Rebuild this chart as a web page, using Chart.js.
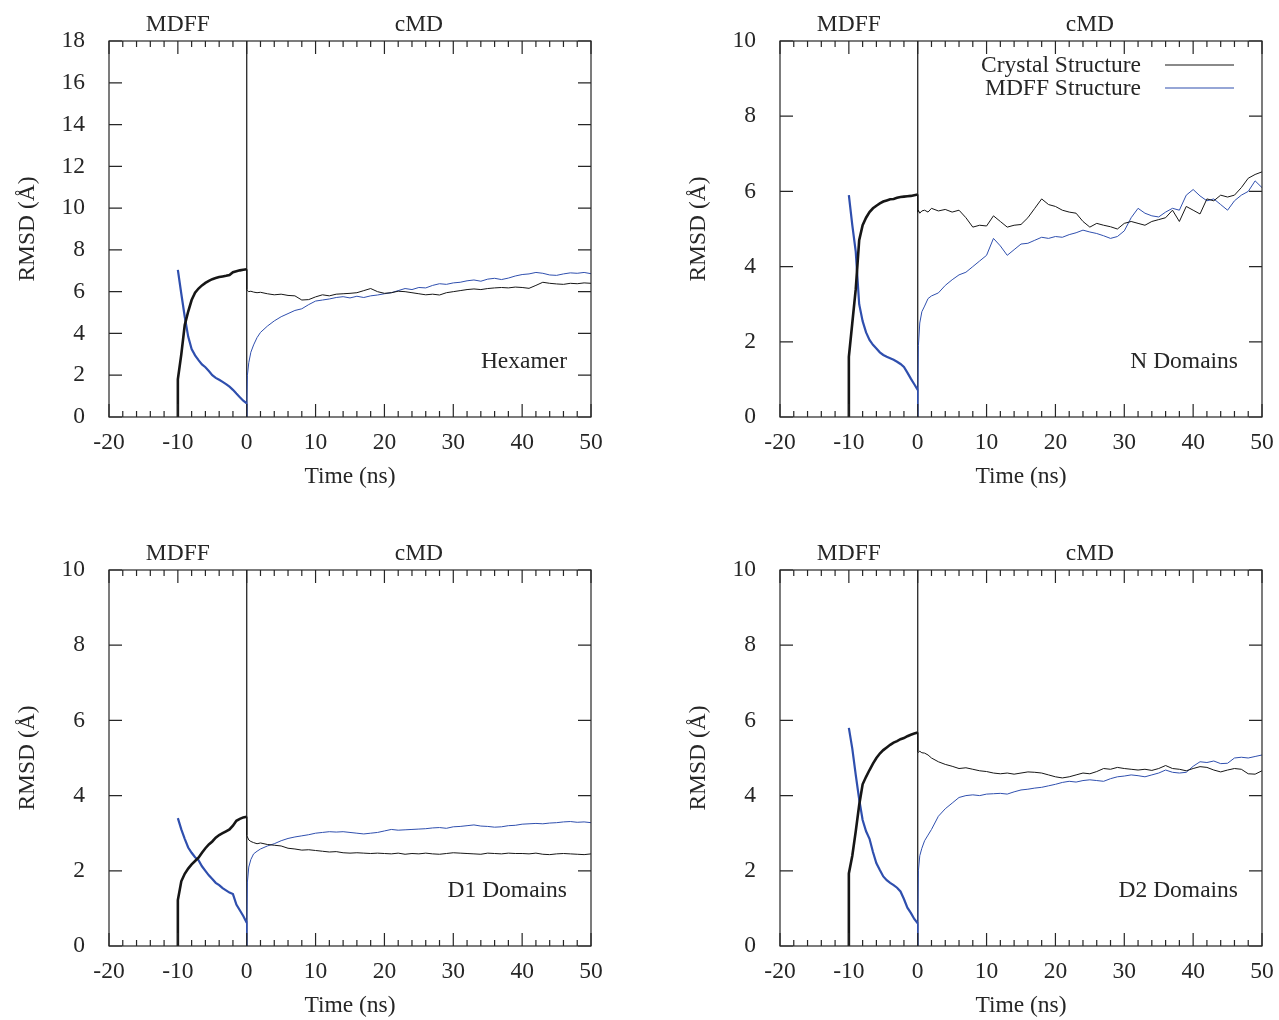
<!DOCTYPE html>
<html lang="en">
<head>
<meta charset="UTF-8">
<title>RMSD MDFF / cMD</title>
<script src="https://cdn.jsdelivr.net/npm/chart.js"></script>
<style>
  body { margin: 0; background: #fff; overflow: hidden; }
  .panel { position: absolute; }
</style>
</head>
<body>
<div class="panel" style="left:0;top:0"><canvas id="c1" width="608" height="491"></canvas></div>
<div class="panel" style="left:671px;top:0"><canvas id="c2" width="608" height="491"></canvas></div>
<div class="panel" style="left:0;top:529px"><canvas id="c3" width="608" height="491"></canvas></div>
<div class="panel" style="left:671px;top:529px"><canvas id="c4" width="608" height="491"></canvas></div>

<script>
// time axes (ns): MDFF run from -10 to 0, then conventional MD from 0 to 50
const mdffTime = [-10, -10, -9.5, -9, -8.5, -8, -7.5, -7, -6.5, -6, -5.5, -5, -4.5, -4, -3.5, -3, -2.5, -2, -1.5, -1, -0.5, 0];
const cmdTime = [0, 0, 0.1, 0.3, 0.6, 1, 1.5, 2,
  3, 4, 5, 6, 7, 8, 9, 10,
  11, 12, 13, 14, 15, 16, 17, 18, 19, 20,
  21, 22, 23, 24, 25, 26, 27, 28, 29, 30,
  31, 32, 33, 34, 35, 36, 37, 38, 39, 40,
  41, 42, 43, 44, 45, 46, 47, 48, 49, 50];

// Hexamer
const hexCrystalMdff = [0, 1.8, 3.0, 4.4, 5.05, 5.6, 5.95, 6.15, 6.3, 6.42, 6.52, 6.6, 6.65, 6.7, 6.73, 6.76, 6.8, 6.93, 6.98, 7.02, 7.05, 7.07];
const hexModelMdff = [7.04, 7.04, 5.9, 4.8, 3.85, 3.25, 2.95, 2.72, 2.52, 2.38, 2.2, 2.0, 1.87, 1.78, 1.68, 1.57, 1.45, 1.3, 1.12, 0.95, 0.78, 0.65];
const hexCrystalCmd = [7.07, 6.1, 6.05, 6.0, 6.02, 5.98, 5.95, 5.97,
  5.9, 5.85, 5.88, 5.82, 5.8, 5.6, 5.62, 5.75,
  5.85, 5.8, 5.88, 5.9, 5.92, 5.95, 6.05, 6.15, 6.0, 5.92,
  5.95, 6.02, 6.0, 5.95, 5.9, 5.85, 5.88, 5.84, 5.95, 6.0,
  6.05, 6.1, 6.13, 6.1, 6.15, 6.18, 6.2, 6.18, 6.22, 6.2,
  6.16, 6.3, 6.45, 6.4, 6.37, 6.35, 6.4, 6.38, 6.42, 6.4];
const hexModelCmd = [0.65, 0, 2.0, 2.6, 3.1, 3.45, 3.8, 4.05,
  4.35, 4.6, 4.8, 4.95, 5.1, 5.18, 5.38, 5.55,
  5.6, 5.65, 5.72, 5.76, 5.7, 5.78, 5.72, 5.8, 5.84, 5.9,
  5.95, 6.05, 6.15, 6.1, 6.2, 6.18, 6.3, 6.38, 6.35, 6.42,
  6.45, 6.52, 6.56, 6.5, 6.6, 6.64, 6.58, 6.65, 6.75, 6.82,
  6.85, 6.92, 6.88, 6.8, 6.78, 6.85, 6.9, 6.88, 6.92, 6.86];

// N domains
const nCrystalMdff = [0, 1.6, 2.5, 3.4, 4.7, 5.1, 5.3, 5.45, 5.55, 5.62, 5.68, 5.73, 5.76, 5.79, 5.8, 5.83, 5.85, 5.86, 5.87, 5.88, 5.9, 5.92];
const nModelMdff = [5.9, 5.9, 5.1, 4.4, 3.0, 2.55, 2.25, 2.05, 1.92, 1.82, 1.72, 1.65, 1.6, 1.56, 1.52, 1.47, 1.41, 1.33, 1.18, 1.02, 0.87, 0.72];
const nCrystalCmd = [5.92, 5.45, 5.5, 5.42, 5.48, 5.5, 5.45, 5.55,
  5.48, 5.52, 5.45, 5.5, 5.3, 5.05, 5.1, 5.08,
  5.35, 5.2, 5.05, 5.1, 5.12, 5.3, 5.55, 5.8, 5.65, 5.6,
  5.5, 5.45, 5.42, 5.2, 5.05, 5.15, 5.1, 5.06, 5.0, 5.15,
  5.2, 5.15, 5.1, 5.2, 5.25, 5.3, 5.5, 5.2, 5.6, 5.5,
  5.4, 5.8, 5.75, 5.9, 5.85, 5.9, 6.1, 6.35, 6.45, 6.52];
const nModelCmd = [0.72, 0, 1.9, 2.5, 2.8, 2.95, 3.15, 3.22,
  3.3, 3.5, 3.65, 3.78, 3.85, 4.0, 4.15, 4.3,
  4.75, 4.55, 4.3, 4.45, 4.6, 4.62, 4.7, 4.78, 4.75, 4.8,
  4.78, 4.85, 4.9, 4.97, 4.92, 4.88, 4.82, 4.75, 4.8, 4.95,
  5.3, 5.55, 5.42, 5.35, 5.32, 5.45, 5.55, 5.5, 5.9, 6.05,
  5.88, 5.75, 5.8, 5.65, 5.5, 5.75, 5.9, 6.0, 6.28, 6.1];

// D1 domains
const d1CrystalMdff = [0, 1.22, 1.72, 1.92, 2.06, 2.17, 2.26, 2.35, 2.48, 2.6, 2.7, 2.78, 2.88, 2.95, 3.0, 3.05, 3.1, 3.2, 3.33, 3.38, 3.42, 3.44];
const d1ModelMdff = [3.4, 3.4, 3.1, 2.85, 2.62, 2.48, 2.36, 2.28, 2.12, 2.0, 1.88, 1.78, 1.68, 1.62, 1.54, 1.48, 1.42, 1.38, 1.1, 0.95, 0.8, 0.62];
const d1CrystalCmd = [3.44, 2.95, 2.9, 2.82, 2.78, 2.75, 2.72, 2.74,
  2.7, 2.68, 2.66, 2.6, 2.58, 2.55, 2.56, 2.54,
  2.52, 2.5, 2.51, 2.48, 2.47, 2.48, 2.47, 2.46, 2.47, 2.46,
  2.45, 2.47, 2.44, 2.46, 2.45, 2.47, 2.45, 2.44, 2.46, 2.48,
  2.47, 2.46, 2.45, 2.44, 2.47, 2.46, 2.45, 2.47, 2.46, 2.46,
  2.45, 2.47, 2.44, 2.43, 2.45, 2.46, 2.45, 2.44, 2.43, 2.45];
const d1ModelCmd = [0.62, 0, 1.7, 2.1, 2.3, 2.45, 2.52, 2.58,
  2.66, 2.72, 2.8, 2.86, 2.9, 2.93, 2.96, 3.0,
  3.02, 3.04, 3.03, 3.04, 3.02, 3.0, 2.98, 3.0, 3.02, 3.06,
  3.1, 3.08, 3.09, 3.1, 3.11, 3.12, 3.14, 3.15, 3.13, 3.17,
  3.18, 3.2, 3.22, 3.19, 3.18, 3.16, 3.17, 3.2, 3.21, 3.24,
  3.25, 3.26, 3.25, 3.27, 3.28, 3.3, 3.31, 3.29, 3.3, 3.28];

// D2 domains
const d2CrystalMdff = [0, 1.93, 2.4, 3.05, 3.75, 4.3, 4.5, 4.68, 4.85, 5.0, 5.12, 5.21, 5.28, 5.35, 5.41, 5.45, 5.5, 5.53, 5.58, 5.62, 5.65, 5.68];
const d2ModelMdff = [5.8, 5.8, 5.25, 4.55, 3.9, 3.35, 3.05, 2.85, 2.5, 2.2, 2.02, 1.85, 1.75, 1.68, 1.62, 1.55, 1.45, 1.25, 1.02, 0.88, 0.72, 0.6];
const d2CrystalCmd = [5.68, 5.17, 5.15, 5.18, 5.14, 5.13, 5.08, 5.0,
  4.9, 4.83, 4.78, 4.72, 4.74, 4.7, 4.66, 4.64,
  4.6, 4.58, 4.6, 4.57, 4.6, 4.63, 4.62, 4.6, 4.55, 4.5,
  4.47, 4.5, 4.55, 4.6, 4.58, 4.64, 4.72, 4.7, 4.75, 4.72,
  4.7, 4.68, 4.7, 4.67, 4.72, 4.8, 4.72, 4.7, 4.66, 4.72,
  4.77, 4.75, 4.68, 4.63, 4.68, 4.72, 4.7, 4.58, 4.57, 4.66];
const d2ModelCmd = [0.6, 0, 2.0, 2.4, 2.6, 2.8, 2.95, 3.1,
  3.45, 3.65, 3.8, 3.95, 4.0, 4.02, 4.0, 4.04,
  4.05, 4.06, 4.04, 4.1, 4.15, 4.17, 4.2, 4.22, 4.26, 4.3,
  4.35, 4.38, 4.36, 4.4, 4.42, 4.4, 4.38, 4.45, 4.5, 4.52,
  4.55, 4.53, 4.5, 4.55, 4.6, 4.68, 4.62, 4.6, 4.62, 4.78,
  4.9, 4.88, 4.92, 4.85, 4.86, 5.0, 5.02, 5.0, 5.04, 5.08];

const phaseLabels = [['MDFF', -10], ['cMD', 25]];
const seriesNames = ['Crystal Structure', 'MDFF Structure'];

const BLACK = '#161616';
const BLUE = '#2f4fae';
const INK = '#262626';
const FONT = "'Liberation Serif', 'Times New Roman', serif";

Chart.defaults.font.family = FONT;
Chart.defaults.font.size = 23.5;
Chart.defaults.color = INK;

function pts(xs, ys) {
  return xs.map((t, i) => ({ x: t, y: ys[i] }));
}

// frame, inward ticks (gnuplot style), t=0 divider and text annotations
const decorations = {
  id: 'decorations',
  beforeDatasetsDraw(chart) {
    const { ctx, chartArea: a, scales: { x } } = chart;
    const x0 = x.getPixelForValue(0);
    ctx.save();
    ctx.strokeStyle = INK;
    ctx.lineWidth = 1.3;
    ctx.beginPath();
    ctx.moveTo(x0, a.top);
    ctx.lineTo(x0, a.bottom);
    ctx.stroke();
    ctx.restore();
  },
  afterDatasetsDraw(chart, args, opts) {
    const { ctx, chartArea: a, scales: { x, y } } = chart;
    ctx.save();
    ctx.strokeStyle = INK;
    ctx.lineWidth = 1.2;
    ctx.strokeRect(a.left, a.top, a.right - a.left, a.bottom - a.top);

    ctx.beginPath();
    for (let v = x.min; v <= x.max; v += 2) {
      const px = x.getPixelForValue(v);
      const len = v % 10 === 0 ? 13 : 6;
      ctx.moveTo(px, a.bottom); ctx.lineTo(px, a.bottom - len);
      ctx.moveTo(px, a.top); ctx.lineTo(px, a.top + len);
    }
    y.ticks.forEach(t => {
      const py = y.getPixelForValue(t.value);
      ctx.moveTo(a.left, py); ctx.lineTo(a.left + 13, py);
      ctx.moveTo(a.right, py); ctx.lineTo(a.right - 13, py);
    });
    ctx.stroke();

    ctx.fillStyle = INK;
    ctx.font = '23.5px ' + FONT;
    ctx.textBaseline = 'middle';
    ctx.textAlign = 'center';
    phaseLabels.forEach(([txt, t]) => ctx.fillText(txt, x.getPixelForValue(t), a.top - 16));

    ctx.textAlign = 'right';
    ctx.fillText(opts.panel, a.right - 24, a.bottom - 55);

    if (opts.legend) {
      [BLACK, BLUE].forEach((c, i) => {
        const ly = a.top + 25 + i * 23;
        ctx.fillStyle = INK;
        ctx.fillText(seriesNames[i], a.right - 121, ly);
        ctx.strokeStyle = c;
        ctx.lineWidth = 1.2;
        ctx.beginPath();
        ctx.moveTo(a.right - 97, ly - 1);
        ctx.lineTo(a.right - 28, ly - 1);
        ctx.stroke();
      });
    }
    ctx.restore();
  }
};

function makePanel(id, yMax, panel, legend, crystalMdff, modelMdff, crystalCmd, modelCmd) {
  new Chart(document.getElementById(id), {
    type: 'line',
    data: {
      datasets: [
        { label: 'crystal MDFF', data: pts(mdffTime, crystalMdff), borderColor: BLACK, borderWidth: 2.6 },
        { label: 'model MDFF', data: pts(mdffTime, modelMdff), borderColor: BLUE, borderWidth: 2.2 },
        { label: 'crystal cMD', data: pts(cmdTime, crystalCmd), borderColor: BLACK, borderWidth: 1 },
        { label: 'model cMD', data: pts(cmdTime, modelCmd), borderColor: BLUE, borderWidth: 1 }
      ]
    },
    options: {
      responsive: false,
      animation: false,
      events: [],
      elements: { point: { radius: 0 }, line: { tension: 0 } },
      layout: { padding: { top: 41, right: 17, left: 0, bottom: 0 } },
      plugins: {
        legend: { display: false },
        tooltip: { enabled: false },
        decorations: { panel: panel, legend: legend }
      },
      scales: {
        x: {
          type: 'linear',
          min: -20, max: 50,
          grid: { display: false, drawTicks: false },
          border: { display: false },
          ticks: { stepSize: 10, padding: 12, maxRotation: 0 },
          title: { display: true, text: 'Time (ns)', padding: { top: 0, bottom: 0 } },
          afterFit: s => { s.height = 74; s.paddingLeft = 0; s.paddingRight = 0; }
        },
        y: {
          min: 0, max: yMax,
          grid: { display: false, drawTicks: false },
          border: { display: false },
          ticks: { stepSize: 2, padding: 24 },
          title: { display: true, text: 'RMSD (Å)', padding: { top: 14, bottom: 0 } },
          afterFit: s => { s.width = 109; s.paddingTop = 0; s.paddingBottom = 0; }
        }
      }
    },
    plugins: [decorations]
  });
}

makePanel('c1', 18, 'Hexamer', false, hexCrystalMdff, hexModelMdff, hexCrystalCmd, hexModelCmd);
makePanel('c2', 10, 'N Domains', true, nCrystalMdff, nModelMdff, nCrystalCmd, nModelCmd);
makePanel('c3', 10, 'D1 Domains', false, d1CrystalMdff, d1ModelMdff, d1CrystalCmd, d1ModelCmd);
makePanel('c4', 10, 'D2 Domains', false, d2CrystalMdff, d2ModelMdff, d2CrystalCmd, d2ModelCmd);
</script>
</body>
</html>
